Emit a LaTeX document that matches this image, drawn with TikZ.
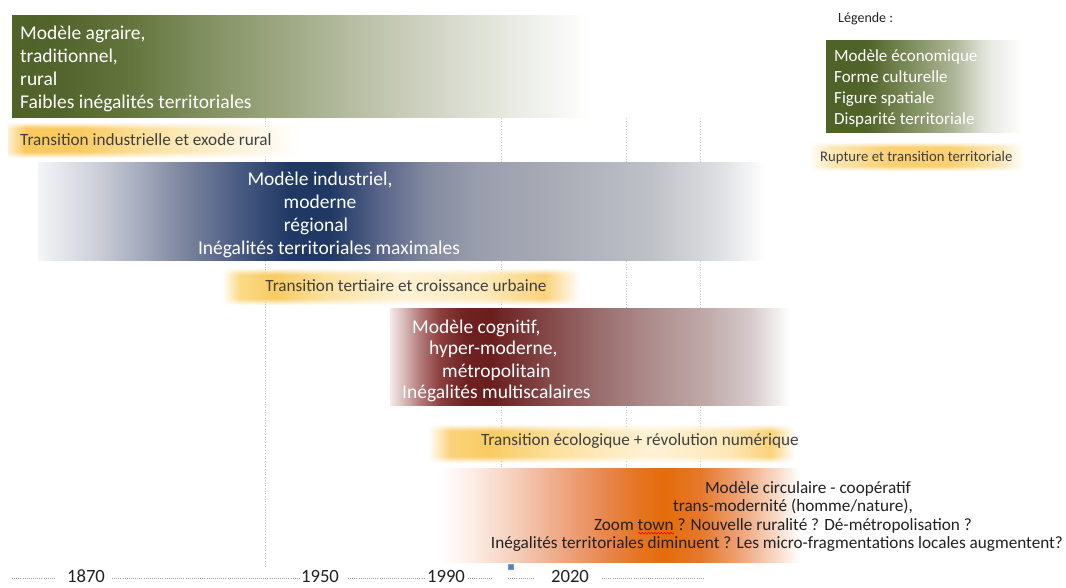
\documentclass[tikz,border=0pt]{standalone}
\usepackage{fontspec}
\setmainfont{Carlito}
\usetikzlibrary{fadings,decorations.pathmorphing}
% colours
\definecolor{gA}{HTML}{4F6228}\definecolor{gB}{HTML}{52652C}\definecolor{gC}{HTML}{63753D}
\definecolor{gD}{HTML}{7F8E5E}\definecolor{gE}{HTML}{A3AD8A}\definecolor{gF}{HTML}{C7CBB7}
\definecolor{gG}{HTML}{E5E7DF}
\definecolor{bA}{HTML}{F4F5F8}\definecolor{bB}{HTML}{CACDD6}\definecolor{bC}{HTML}{A5ACBD}
\definecolor{bD}{HTML}{8088A0}\definecolor{bE}{HTML}{485A82}\definecolor{bF}{HTML}{1F3864}
\definecolor{bG}{HTML}{59658A}\definecolor{bH}{HTML}{858CA0}\definecolor{bI}{HTML}{9A9EAD}
\definecolor{bJ}{HTML}{A8ABB5}\definecolor{bK}{HTML}{BEC0C7}\definecolor{bL}{HTML}{DFE0E3}
\definecolor{rA}{HTML}{F4EAEA}\definecolor{rB}{HTML}{DCC0C0}\definecolor{rC}{HTML}{B37A7A}
\definecolor{rD}{HTML}{8C3E3E}\definecolor{rE}{HTML}{6E2222}\definecolor{rF}{HTML}{6A1E1E}
\definecolor{rG}{HTML}{773434}\definecolor{rH}{HTML}{8A5252}\definecolor{rI}{HTML}{9A6E6E}
\definecolor{rJ}{HTML}{AD8C8C}\definecolor{rK}{HTML}{BDA6A6}\definecolor{rL}{HTML}{D6C9C9}
\definecolor{oA}{HTML}{FCEEE7}\definecolor{oB}{HTML}{F6D2C0}\definecolor{oC}{HTML}{EFB090}
\definecolor{oD}{HTML}{E88A55}\definecolor{oE}{HTML}{E5731F}\definecolor{oF}{HTML}{E46C0A}
\definecolor{oG}{HTML}{E6772A}\definecolor{oH}{HTML}{EEA478}\definecolor{oI}{HTML}{F8D8C5}
\definecolor{yA}{HTML}{FDF0D2}\definecolor{yB}{HTML}{F9C95C}\definecolor{yC}{HTML}{F9CB62}
\definecolor{yD}{HTML}{FCE2A2}\definecolor{yE}{HTML}{FEF2D6}\definecolor{yF}{HTML}{FBDA86}
\definecolor{yG}{HTML}{FDEBC0}\definecolor{yH}{HTML}{FAD27A}\definecolor{yI}{HTML}{FDE7B5}
\definecolor{yJ}{HTML}{FCE8B8}\definecolor{yK}{HTML}{FAD070}
\definecolor{txtgray}{HTML}{404040}\definecolor{txtdark}{HTML}{222222}
\definecolor{dotgray}{HTML}{C4C4C4}\definecolor{sqblue}{HTML}{4F81BD}
% shadings (middle 25bp..75bp is mapped onto the band)
\pgfdeclarehorizontalshading{shgreen}{100bp}{color(0bp)=(gA); color(25bp)=(gA); color(29.15bp)=(gB); color(35.2bp)=(gC); color(41.26bp)=(gD); color(49.9bp)=(gE); color(58.56bp)=(gF); color(67.2bp)=(gG); color(75bp)=(white); color(100bp)=(white)}
\pgfdeclarehorizontalshading{shblue}{100bp}{color(0bp)=(bA); color(25bp)=(bA); color(29.26bp)=(bB); color(32.02bp)=(bC); color(34.77bp)=(bD); color(38.89bp)=(bE); color(42.33bp)=(bF); color(45.08bp)=(bF); color(48.52bp)=(bG); color(51.96bp)=(bH); color(55.4bp)=(bI); color(60.22bp)=(bJ); color(67.09bp)=(bK); color(71.91bp)=(bL); color(75bp)=(white); color(100bp)=(white)}
\pgfdeclarehorizontalshading{shred}{100bp}{color(0bp)=(rA); color(25bp)=(rA); color(26.5bp)=(rB); color(28.75bp)=(rC); color(31.25bp)=(rD); color(34.38bp)=(rE); color(37.5bp)=(rF); color(41.25bp)=(rG); color(46.25bp)=(rH); color(51.25bp)=(rI); color(57.5bp)=(rJ); color(63.75bp)=(rK); color(70bp)=(rL); color(75bp)=(white); color(100bp)=(white)}
\pgfdeclarehorizontalshading{shorange}{100bp}{color(0bp)=(white); color(25bp)=(white); color(29.17bp)=(oA); color(34.72bp)=(oB); color(40.28bp)=(oC); color(47.22bp)=(oD); color(52.78bp)=(oE); color(56.25bp)=(oF); color(61.11bp)=(oG); color(66.67bp)=(oH); color(71.53bp)=(oI); color(75bp)=(white); color(100bp)=(white)}
\pgfdeclarehorizontalshading{shlegend}{100bp}{color(0bp)=(gA); color(25bp)=(gA); color(35.05bp)=(gA); color(46.65bp)=(gD); color(56.96bp)=(gE!80!gF); color(65.98bp)=(gG); color(75bp)=(white); color(100bp)=(white)}
\pgfdeclarehorizontalshading{shyone}{100bp}{color(0bp)=(yA); color(25bp)=(yA); color(27.91bp)=(yB); color(37.33bp)=(yC); color(49.32bp)=(yD); color(63.01bp)=(yE); color(75bp)=(white); color(100bp)=(white)}
\pgfdeclarehorizontalshading{shytwo}{100bp}{color(0bp)=(white); color(25bp)=(white); color(27.51bp)=(yF); color(32.4bp)=(yC); color(40.08bp)=(yD); color(49.86bp)=(yE); color(61.03bp)=(yG); color(70.11bp)=(yH); color(75bp)=(white); color(100bp)=(white)}
\pgfdeclarehorizontalshading{shythree}{100bp}{color(0bp)=(white); color(25bp)=(white); color(28bp)=(yH); color(33.45bp)=(yC); color(42.98bp)=(yD); color(55.25bp)=(yE); color(66.14bp)=(yI); color(71.59bp)=(yH); color(75bp)=(white); color(100bp)=(white)}
\pgfdeclarehorizontalshading{shylegend}{100bp}{color(0bp)=(white); color(25bp)=(white); color(30.09bp)=(yJ); color(43.98bp)=(yK); color(57.87bp)=(yK); color(69.44bp)=(yJ); color(75bp)=(white); color(100bp)=(white)}
% soft top and bottom edges of the transition bands
\pgfdeclareverticalshading{shvsoft}{100bp}{color(0bp)=(black); color(25bp)=(black); color(34bp)=(white); color(66bp)=(white); color(75bp)=(black); color(100bp)=(black)}
\pgfdeclarefading{vsoft}{\pgfuseshading{shvsoft}}
% red spell-check squiggle under a word
\newsavebox\wavebox
\newcommand\redwave[1]{\sbox\wavebox{#1}\rlap{\tikz[baseline=0pt,x=1pt,y=1pt]\draw[red,line width=0.6pt,decorate,decoration={snake,amplitude=0.9pt,segment length=3.2pt}] (0,-3.2) -- (\wd\wavebox,-3.2);}\usebox\wavebox}
\begin{document}
\begin{tikzpicture}[x=1pt,y=-1pt,
  bigtxt/.style={font=\fontsize{19.5}{23}\selectfont, text=white, inner sep=0pt},
  legtxt/.style={font=\fontsize{17}{21}\selectfont, text=white, inner sep=0pt, anchor=base west},
  trtxt/.style={font=\fontsize{17.2}{20}\selectfont, text=txtgray, inner sep=0pt},
  orgtxt/.style={font=\fontsize{17.2}{20}\selectfont, text=txtdark, inner sep=0pt, anchor=base},
  yeartxt/.style={font=\fontsize{18.7}{22}\selectfont, text=txtdark, inner sep=0pt, anchor=base, text depth=0pt},
  vline/.style={draw=dotgray, line width=0.7pt, dash pattern=on 0.7pt off 2pt},
  tline/.style={draw=gray!75, line width=0.9pt, dash pattern=on 0.9pt off 1.2pt},
  softband/.style={path fading=vsoft}]
\useasboundingbox (0,0) rectangle (1066,587);
\fill[white] (0,0) rectangle (1066,587);

% vertical dotted guides
\coordinate (v1t) at (265,118); \coordinate (v1b) at (265,567);
\coordinate (v2t) at (501,118); \coordinate (v2b) at (501,560);
\coordinate (v3t) at (626,118); \coordinate (v3b) at (626,560);
\coordinate (v4t) at (700,118); \coordinate (v4b) at (700,560);
\draw[vline] (v1t) -- (v1b);
\draw[vline] (v2t) -- (v2b);
\draw[vline] (v3t) -- (v3b);
\draw[vline] (v4t) -- (v4b);

% bands
\shade[shading=shgreen] (12,15) rectangle (590,117);
\shade[shading=shyone, softband] (8,122) rectangle (300,158);
\shade[shading=shblue] (38,162) rectangle (765,260);
\shade[shading=shytwo, softband] (222,268) rectangle (580,305);
\shade[shading=shred] (390,308) rectangle (790,405);
\shade[shading=shythree, softband] (428,424) rectangle (795,463);
\shade[shading=shorange] (440,468) rectangle (800,562);

% legend
\node[font=\fontsize{14}{17}\selectfont, text=txtdark, inner sep=0pt, anchor=base west] (leg) at (838,22) {Légende :};
\shade[shading=shlegend] (826,40) rectangle (1022,132);
\node[legtxt] (l1) at (834,61) {Modèle économique};
\node[legtxt] (l2) at (834,82.5) {Forme culturelle};
\node[legtxt] (l3) at (834,103.5) {Figure spatiale};
\node[legtxt] (l4) at (834,124.5) {Disparité territoriale};
\shade[shading=shylegend, softband] (808,142) rectangle (1024,171);
\node[font=\fontsize{14.7}{17}\selectfont, text=txtgray, inner sep=0pt, anchor=base west] (lr) at (820,161) {Rupture et transition territoriale};

% agrarian model
\node[bigtxt, anchor=base west] (ga1) at (20,39) {Modèle agraire,};
\node[bigtxt, anchor=base west] (ga2) at (20,62) {traditionnel,};
\node[bigtxt, anchor=base west] (ga3) at (20,85) {rural};
\node[bigtxt, anchor=base west] (ga4) at (20,108) {Faibles inégalités territoriales};
\node[trtxt, anchor=base west] (tr1) at (20,145.5) {Transition industrielle et exode rural};

% industrial model
\node[bigtxt, anchor=base] (bi1) at (320,185) {Modèle industriel,};
\node[bigtxt, anchor=base] (bi2) at (320,208) {moderne};
\node[bigtxt, anchor=base] (bi3) at (316,231) {régional};
\node[bigtxt, anchor=base] (bi4) at (329,254) {Inégalités territoriales maximales};
\node[trtxt, anchor=base] (tr2) at (406,291.5) {Transition tertiaire et croissance urbaine};

% cognitive model
\node[bigtxt, anchor=base west] (rc1) at (412,333) {Modèle cognitif,};
\node[bigtxt, anchor=base west] (rc2) at (429,354.5) {hyper-moderne,};
\node[bigtxt, anchor=base west] (rc3) at (442,377) {métropolitain};
\node[bigtxt, anchor=base west] (rc4) at (402,398) {Inégalités multiscalaires};
\node[trtxt, anchor=base] (tr3) at (640,445.5) {Transition écologique + révolution numérique};

% circular model
\node[orgtxt] (oc1) at (808,493) {Modèle circulaire - coopératif};
\node[orgtxt] (oc2) at (793,511) {trans-modernité (homme/nature),};
\node[orgtxt] (oc3) at (783,530) {Zoom \redwave{town} ? Nouvelle ruralité ? Dé-métropolisation ?};
\node[orgtxt] (oc4) at (777,548) {Inégalités territoriales diminuent ? Les micro-fragmentations locales augmentent?};

% small marker
\node[draw=sqblue!80!white, fill=sqblue, line width=0.4pt, minimum size=5pt, inner sep=0pt] (sq) at (510.5,567) {};

% timeline
\node[yeartxt] (y1870) at (86,582) {1870};
\node[yeartxt] (y1950) at (320,582) {1950};
\node[yeartxt] (y1990) at (446,582) {1990};
\node[yeartxt] (y2020) at (570,582) {2020};
\coordinate (t0a) at (12,578.5);  \coordinate (t0b) at (55,578.5);
\coordinate (t1a) at (112,578.5); \coordinate (t1b) at (300,578.5);
\coordinate (t2a) at (348,578.5); \coordinate (t2b) at (425,578.5);
\coordinate (t3a) at (468,578.5); \coordinate (t3b) at (492,578.5);
\coordinate (t4a) at (508,578.5); \coordinate (t4b) at (535,578.5);
\coordinate (t5a) at (602,578.5); \coordinate (t5b) at (703,578.5);
\draw[tline] (t0a) -- (t0b);
\draw[tline] (t1a) -- (t1b);
\draw[tline] (t2a) -- (t2b);
\draw[tline] (t3a) -- (t3b);
\draw[tline] (t4a) -- (t4b);
\draw[tline] (t5a) -- (t5b);
\end{tikzpicture}
\end{document}
